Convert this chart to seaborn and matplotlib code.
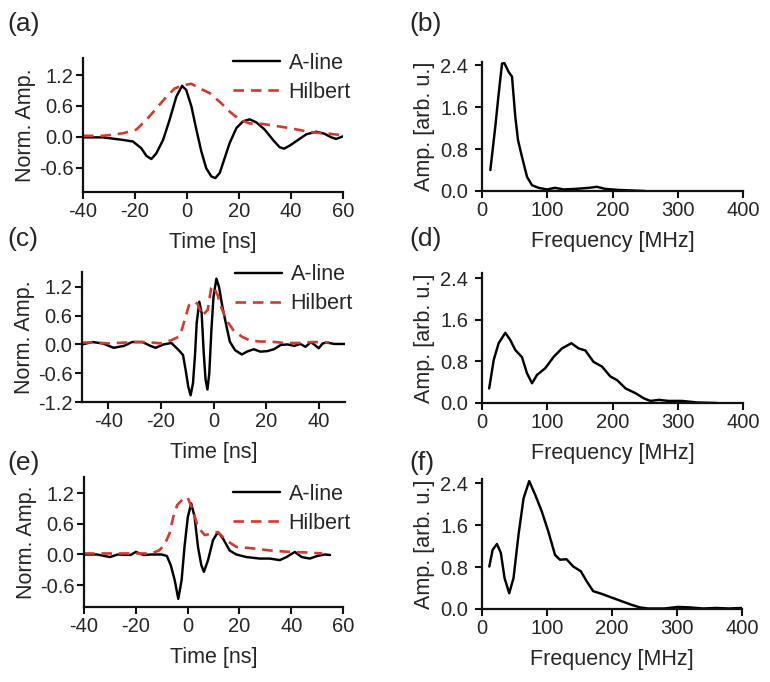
import numpy as np
import pandas as pd
import matplotlib
matplotlib.use("Agg")
import matplotlib.pyplot as plt
import seaborn as sns

# ---------------- data ----------------
# (a) time-domain
t_a_line = [-40, -32.3, -24.6, -20.8, -17.6, -15.6, -13.7, -11.8, -9.2, -6.7, -4.1, -1.9, -0.3, 1.7, 3.6, 5.5, 7.4, 9.4, 10.9, 12.6, 14.5, 16.4, 19, 21.5, 24.1, 26.7, 29.9, 33.1, 35.6, 37.3, 39.5, 42.7, 45.9, 49.7, 52.9, 55.5, 57.4, 60]
a_line_a = [-0.01, -0.01, -0.06, -0.09, -0.22, -0.37, -0.43, -0.32, -0.06, 0.33, 0.78, 0.99, 0.91, 0.59, 0.14, -0.28, -0.61, -0.77, -0.80, -0.70, -0.41, -0.12, 0.17, 0.30, 0.34, 0.28, 0.14, -0.06, -0.20, -0.23, -0.17, -0.06, 0.05, 0.10, 0.06, -0.01, -0.04, 0.01]
t_a_hil = [-40, -32.3, -24.6, -19.5, -15.6, -11.8, -7.9, -4.7, -1.5, 1.7, 4.9, 8.7, 12.6, 16.4, 20.3, 24.1, 29.2, 34.4, 39.5, 44.6, 49.7, 54.9, 60]
hil_a = [0.02, 0.02, 0.07, 0.14, 0.33, 0.55, 0.78, 0.94, 1.00, 1.03, 0.94, 0.85, 0.68, 0.49, 0.33, 0.26, 0.25, 0.21, 0.17, 0.12, 0.08, 0.06, 0.03]

# (b) spectrum
f_b = [12.8, 20.4, 25.6, 30.7, 34.2, 40.9, 46, 51, 55.2, 61.3, 69, 76.7, 86.9, 99.6, 112, 125, 143, 163.5, 176, 189, 209.5, 230, 250]
amp_b = [0.40, 1.23, 1.86, 2.43, 2.44, 2.27, 2.18, 1.42, 0.97, 0.65, 0.27, 0.11, 0.06, 0.03, 0.06, 0.03, 0.04, 0.06, 0.08, 0.04, 0.02, 0.01, 0.0]

# (c) time-domain
t_c_line = [-50, -46, -42, -38, -34, -31, -27, -24, -22, -19, -16, -13.2, -11.6, -10.6, -9.6, -8.7, -7.8, -7.0, -6.4, -5.4, -4.5, -3.7, -3.0, -2.3, -1.6, -0.8, 0, 1.1, 2.1, 3.4, 4.7, 6.2, 8.2, 10.8, 12.7, 15.3, 17.8, 20.4, 23, 25.6, 28.2, 30.7, 33, 35, 37, 38.5, 40, 41.5, 43, 46, 50]
a_line_c = [0.0, 0.05, 0.02, -0.07, -0.03, 0.05, 0.05, -0.03, -0.07, 0.0, 0.03, -0.12, -0.22, -0.53, -0.88, -1.06, -0.81, -0.19, 0.44, 0.89, 0.65, -0.19, -0.74, -0.94, -0.60, 0.30, 0.99, 1.37, 1.20, 0.78, 0.44, 0.06, -0.12, -0.21, -0.15, -0.10, -0.15, -0.14, -0.10, -0.01, 0.0, -0.03, 0.01, -0.05, 0.05, -0.01, -0.08, 0.02, 0.04, 0.01, 0.01]
t_c_hil = [-50, -45, -40, -30, -25, -20, -16, -13.2, -11.9, -10.6, -9.3, -7.4, -6.1, -4.3, -2.2, -0.9, -0.3, 1.6, 2.9, 4.9, 7.5, 10.8, 14, 17.8, 21.7, 26.9, 32, 38, 44]
hil_c = [0.04, 0.04, 0.02, 0.05, 0.05, 0.02, 0.09, 0.16, 0.33, 0.58, 0.82, 0.89, 0.85, 0.60, 0.72, 1.17, 1.22, 1.03, 0.78, 0.51, 0.30, 0.16, 0.08, 0.06, 0.06, 0.03, 0.03, 0.05, 0.04]

# (d) spectrum
f_d = [11, 18, 25.5, 35.8, 43.4, 51, 61.3, 69, 76.7, 84.3, 97, 110, 122.6, 137, 148, 158.4, 171, 184, 196.7, 207, 220, 235, 248, 258, 271, 286, 306.6, 330, 360]
amp_d = [0.28, 0.83, 1.15, 1.35, 1.21, 1.02, 0.88, 0.57, 0.38, 0.54, 0.67, 0.89, 1.05, 1.15, 1.05, 1.01, 0.79, 0.70, 0.51, 0.44, 0.28, 0.19, 0.09, 0.04, 0.06, 0.04, 0.04, 0.01, 0.0]

# (e) time-domain
t_e_line = [-40, -35, -30, -27, -22, -20, -17, -14, -10, -8, -6.5, -5, -3.6, -2.3, -1.2, 0.1, 1.4, 2.7, 4.0, 5.3, 6.3, 7.9, 9.8, 11.7, 13.7, 16.2, 18.8, 22.7, 27.8, 31.7, 35.6, 38.2, 41.4, 44, 47.2, 50, 53, 55]
a_line_e = [0.0, 0.0, -0.05, 0.0, -0.01, 0.05, -0.01, 0.0, 0.0, -0.03, -0.21, -0.50, -0.87, -0.50, 0.15, 0.74, 1.00, 0.74, 0.15, -0.21, -0.34, -0.11, 0.28, 0.44, 0.31, 0.08, 0.0, -0.05, -0.08, -0.08, -0.11, -0.05, 0.05, -0.05, -0.08, -0.03, 0.0, -0.01]
t_e_hil = [-40, -30, -20, -14, -11, -9, -7, -5.5, -4, -2, 0, 2, 4, 6.6, 9.2, 11.7, 14.9, 18.8, 25.2, 31.7, 39.4, 46, 52]
hil_e = [0.02, 0.02, 0.02, 0.02, 0.08, 0.18, 0.41, 0.74, 0.97, 1.08, 1.12, 0.87, 0.54, 0.38, 0.41, 0.44, 0.28, 0.15, 0.12, 0.08, 0.05, 0.04, 0.02]

# (f) spectrum
f_f = [11.2, 16.4, 23, 29, 34.7, 41.9, 48.5, 56.2, 63.9, 72.6, 81.8, 92, 102, 112.4, 120, 130, 140.5, 152, 161, 171, 184, 199, 214.6, 230, 243, 255.5, 281, 301.5, 320, 340, 360, 380, 400]
amp_f = [0.81, 1.13, 1.24, 1.07, 0.59, 0.30, 0.59, 1.42, 2.11, 2.44, 2.18, 1.86, 1.48, 1.03, 0.94, 0.95, 0.81, 0.72, 0.53, 0.34, 0.29, 0.22, 0.15, 0.08, 0.03, 0.01, 0.01, 0.04, 0.03, 0.01, 0.02, 0.01, 0.02]

time_ticks_a = [-40, -20, 0, 20, 40, 60]
time_ticks_c = [-40, -20, 0, 20, 40]
amp_ticks_a = [-0.6, 0.0, 0.6, 1.2]
amp_ticks_c = [-1.2, -0.6, 0.0, 0.6, 1.2]
freq_ticks = [0, 100, 200, 300, 400]
spec_ticks = [0.0, 0.8, 1.6, 2.4]

# ---------------- style ----------------
sns.set_style("ticks")
plt.rcParams['font.family'] = ['Liberation Sans', 'DejaVu Sans']
plt.rcParams['axes.unicode_minus'] = False
TXT = "#262626"
RED = "#d8382c"
FS = 15.5
TFS = 14.5

W, H = 770, 682
fig = plt.figure(figsize=(W / 100, H / 100), dpi=100)


def add_ax(left, right, top, bottom):
    return fig.add_axes([left / W, 1 - bottom / H, (right - left) / W, (bottom - top) / H])


def style(ax, ypad):
    sns.despine(ax=ax)
    for s in ("left", "bottom"):
        ax.spines[s].set_linewidth(1.6)
        ax.spines[s].set_color("#111111")
    ax.tick_params(axis="both", direction="out", length=5, width=1.5, color="#111111",
                   labelsize=TFS, labelcolor=TXT, pad=2)
    ax.tick_params(axis="y", pad=ypad)


def time_panel(ax, tl, yl, th, yh, xlim, xticks, ylim, yticks, leg_top):
    sns.lineplot(x=tl, y=yl, ax=ax, color="black", lw=1.75, label="A-line", sort=False)
    sns.lineplot(x=th, y=yh, ax=ax, color=RED, lw=1.9, label="Hilbert", sort=False,
                 linestyle=(0, (4.0, 2.6)))
    ax.set_xlim(*xlim)
    ax.set_ylim(*ylim)
    ax.set_xticks(xticks)
    ax.set_yticks(yticks)
    ax.set_yticklabels([f"{v:.1f}" for v in yticks])
    ax.set_xlabel("Time [ns]", fontsize=FS, color=TXT, labelpad=8)
    ax.set_ylabel("Norm. Amp.", fontsize=FS, color=TXT, labelpad=2)
    style(ax, 2)
    ax.legend(loc="upper right", bbox_to_anchor=(1.03, leg_top), frameon=False, fontsize=FS,
              handlelength=2.2, handletextpad=0.4, labelspacing=0.38, borderpad=0,
              borderaxespad=0, labelcolor=TXT)


def spec_panel(ax, f, a, ytop):
    sns.lineplot(x=f, y=a, ax=ax, color="black", lw=1.75, sort=False)
    ax.set_xlim(0, 400)
    ax.set_ylim(0, ytop)
    ax.set_xticks(freq_ticks)
    ax.set_yticks(spec_ticks)
    ax.set_yticklabels([f"{v:.1f}" for v in spec_ticks])
    ax.set_xlabel("Frequency [MHz]", fontsize=FS, color=TXT, labelpad=8)
    ax.set_ylabel("Amp. [arb. u.]", fontsize=FS, color=TXT, labelpad=4)
    style(ax, 5)


ax_a = add_ax(83, 343, 58, 192)
time_panel(ax_a, t_a_line, a_line_a, t_a_hil, hil_a, (-40, 60), time_ticks_a,
           (-1.07, 1.53), amp_ticks_a, 1.04)
ax_b = add_ax(482, 743, 62, 191)
spec_panel(ax_b, f_b, amp_b, 2.46)

ax_c = add_ax(82, 345, 272, 402)
time_panel(ax_c, t_c_line, a_line_c, t_c_hil, hil_c, (-50, 50), time_ticks_c,
           (-1.2, 1.51), amp_ticks_c, 1.06)
ax_d = add_ax(482, 743, 273, 403)
spec_panel(ax_d, f_d, amp_d, 2.5)

ax_e = add_ax(84, 343, 477, 607)
time_panel(ax_e, t_e_line, a_line_e, t_e_hil, hil_e, (-40, 60), time_ticks_a,
           (-1.03, 1.52), amp_ticks_a, 0.95)
ax_f = add_ax(482, 742, 479, 609)
spec_panel(ax_f, f_f, amp_f, 2.48)

for lab, x, y in [("(a)", 7, 24), ("(b)", 409, 24), ("(c)", 7, 239), ("(d)", 409, 239),
                  ("(e)", 7, 463), ("(f)", 409, 463)]:
    fig.text(x / W, 1 - y / H, lab, fontsize=19, color=TXT, ha="left", va="center")

fig.savefig("out.png", dpi=100)
